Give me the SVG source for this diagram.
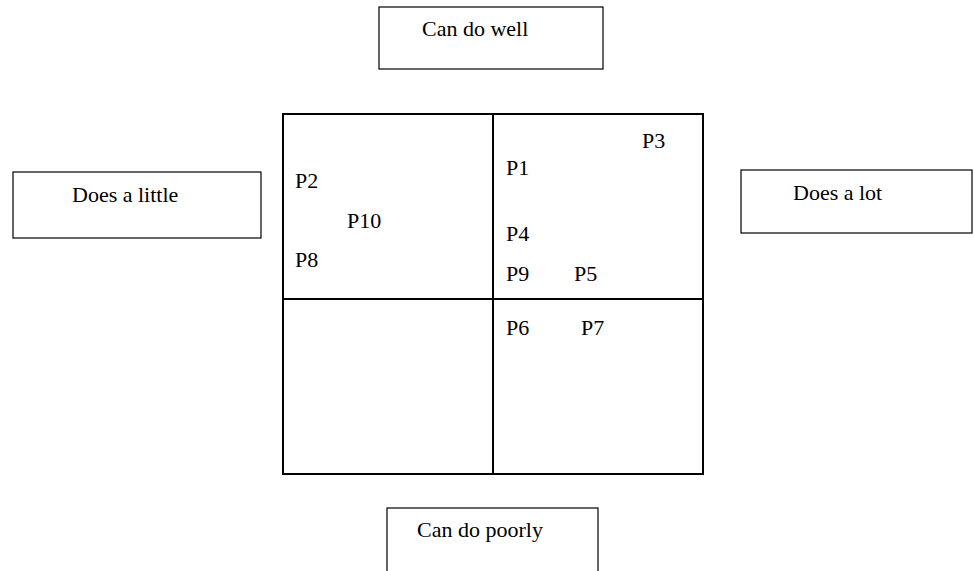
<svg xmlns="http://www.w3.org/2000/svg" width="974" height="571" viewBox="0 0 974 571">
<style>
.box{fill:#fff;stroke:#000;stroke-width:1.2}
.grid{fill:none;stroke:#000;stroke-width:2}
.t{font-family:'Liberation Serif','Times New Roman',Tinos,'DejaVu Serif',serif;font-size:22px;fill:#000}
</style>
<rect width="974" height="571" fill="#fff"/>
<g id="can-do-well"><rect class="box" x="379" y="7" width="224" height="62"/><text class="t" x="422" y="36">Can do well</text></g>
<g id="does-a-little"><rect class="box" x="13" y="172" width="248" height="66"/><text class="t" x="72" y="202">Does a little</text></g>
<g id="does-a-lot"><rect class="box" x="741" y="170" width="231" height="63"/><text class="t" x="793" y="200">Does a lot</text></g>
<g id="can-do-poorly"><rect class="box" x="387" y="508" width="211" height="70"/><text class="t" x="417" y="537">Can do poorly</text></g>
<g id="grid">
<rect class="grid" x="283" y="114" width="420" height="360"/>
<line class="grid" x1="493" y1="114" x2="493" y2="474"/>
<line class="grid" x1="283" y1="299" x2="703" y2="299"/>
</g>
<g id="points" class="t">
<text x="642" y="148">P3</text>
<text x="506" y="175">P1</text>
<text x="295" y="188">P2</text>
<text x="347" y="228">P10</text>
<text x="506" y="241">P4</text>
<text x="295" y="267">P8</text>
<text x="506" y="281">P9</text>
<text x="574" y="281">P5</text>
<text x="506" y="335">P6</text>
<text x="581" y="335">P7</text>
</g>
<g id="connectors"></g>
</svg>
